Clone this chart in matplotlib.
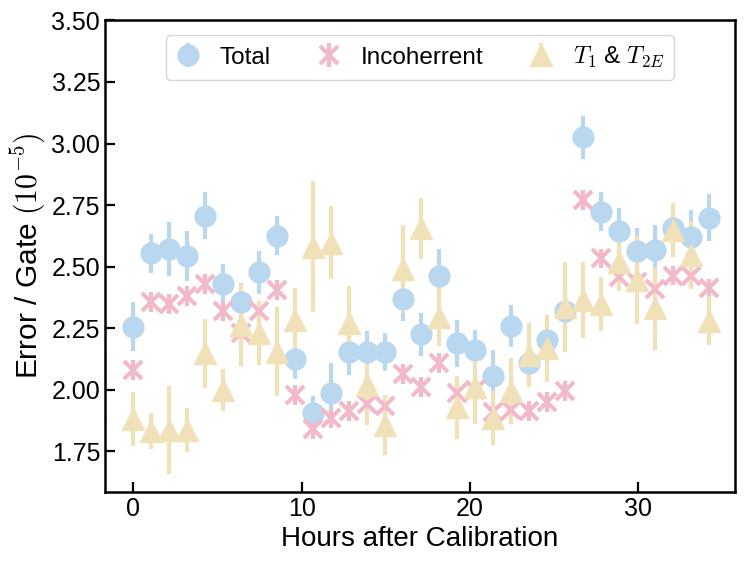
import numpy as np
import matplotlib
matplotlib.use("Agg")
import matplotlib.pyplot as plt

plt.rcParams["font.family"] = ["Liberation Sans", "DejaVu Sans"]
plt.rcParams["mathtext.fontset"] = "cm"

hours = [0.00, 1.07, 2.14, 3.21, 4.28, 5.34, 6.41, 7.48, 8.55, 9.62, 10.69,
         11.76, 12.83, 13.90, 14.96, 16.03, 17.10, 18.17, 19.24, 20.31, 21.38,
         22.45, 23.52, 24.58, 25.65, 26.72, 27.79, 28.86, 29.93, 31.00, 32.07,
         33.14, 34.20]

total = [2.255, 2.554, 2.571, 2.543, 2.707, 2.429, 2.354, 2.476, 2.625, 2.124,
         1.903, 1.987, 2.151, 2.153, 2.153, 2.367, 2.224, 2.463, 2.188, 2.160,
         2.056, 2.260, 2.106, 2.201, 2.320, 3.025, 2.723, 2.644, 2.564, 2.567,
         2.655, 2.621, 2.699]
total_err = [0.10, 0.08, 0.11, 0.10, 0.095, 0.08, 0.08, 0.086, 0.08, 0.08,
             0.07, 0.12, 0.09, 0.085, 0.077, 0.088, 0.087, 0.11, 0.095, 0.084,
             0.104, 0.085, 0.08, 0.08, 0.08, 0.088, 0.078, 0.092, 0.094, 0.10,
             0.09, 0.108, 0.096]

incoh = [2.079, 2.357, 2.348, 2.381, 2.429, 2.320, 2.228, 2.320, 2.405, 1.978,
         1.840, 1.883, 1.914, 1.940, 1.933, 2.062, 2.011, 2.109, 1.985, 2.000,
         1.910, 1.915, 1.914, 1.950, 1.994, 2.770, 2.533, 2.459, 2.438, 2.407,
         2.463, 2.463, 2.411]
incoh_err = [0.04] * len(incoh)

t1t2 = [1.880, 1.830, 1.835, 1.835, 2.147, 1.998, 2.262, 2.228, 2.154, 2.283,
        2.580, 2.597, 2.269, 2.018, 1.856, 2.490, 2.655, 2.296, 1.928, 2.011,
        1.883, 1.994, 2.140, 2.167, 2.334, 2.364, 2.348, 2.520, 2.445, 2.330,
        2.648, 2.547, 2.280]
t1t2_err = [0.11, 0.073, 0.178, 0.09, 0.14, 0.087, 0.166, 0.13, 0.18, 0.13,
            0.266, 0.148, 0.15, 0.163, 0.12, 0.18, 0.123, 0.12, 0.129, 0.15,
            0.11, 0.133, 0.129, 0.135, 0.183, 0.155, 0.108, 0.12, 0.18, 0.17,
            0.111, 0.14, 0.099]

c_blue = "#bad7f0"
c_pink = "#f2b9c8"
c_yellow = "#f1e1b8"

fig = plt.figure(figsize=(7.48, 5.64), dpi=100)
ax = fig.add_axes([0.1404, 0.1282, 0.8422, 0.8355])

ax.errorbar(hours, total, yerr=total_err, fmt="o", color=c_blue, ms=15,
            elinewidth=3, capsize=0, label="Total")
ax.errorbar(hours, incoh, yerr=incoh_err, fmt="x", color=c_pink, ms=13,
            mew=3, elinewidth=3, capsize=0, label="Incoherrent")
ax.errorbar(hours, t1t2, yerr=t1t2_err, fmt="^", color=c_yellow, ms=15.5,
            elinewidth=3, capsize=0, label=r"$T_1$ & $T_{2E}$")

ax.set_xlim(-1.68, 35.75)
ax.set_ylim(1.585, 3.5)
ax.set_xticks([0, 10, 20, 30])
ax.set_yticks([1.75, 2.00, 2.25, 2.50, 2.75, 3.00, 3.25, 3.50])
ax.yaxis.set_major_formatter(matplotlib.ticker.FormatStrFormatter("%.2f"))
ax.tick_params(direction="in", length=7, width=1.6, labelsize=18)
for s in ax.spines.values():
    s.set_linewidth(1.8)

ax.set_xlabel("Hours after Calibration", fontsize=20, labelpad=4)
ax.set_ylabel(r"Error / Gate $(10^{-5})$", fontsize=21.5, labelpad=3)

ax.legend(loc="upper center", ncol=3, fontsize=17.5, handlelength=1.0,
          handletextpad=0.8, columnspacing=1.9, borderaxespad=0.6)

fig.savefig("out.png", dpi=100)
